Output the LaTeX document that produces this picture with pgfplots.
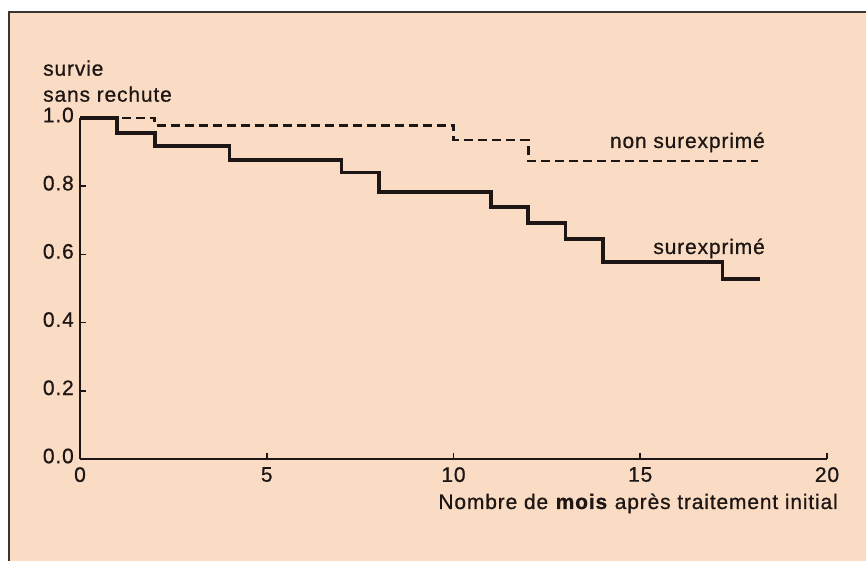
\documentclass[border=0pt]{standalone}
\usepackage{pgfplots}
\pgfplotsset{compat=1.18}
\usepackage{fontspec}
\setmainfont{Liberation Sans}[LetterSpace=4, FakeBold=0.7]
\definecolor{peach}{HTML}{F9DCC3}
\definecolor{ink}{HTML}{1E1614}
\definecolor{framec}{HTML}{3A3533}
\begin{document}
\fontsize{21pt}{25pt}\selectfont
\begin{tikzpicture}[x=1pt,y=1pt]
\useasboundingbox (0,0) rectangle (866,561);
\fill[white] (0,0) rectangle (866,561);
\fill[peach] (9,0) rectangle (866,549);
\draw[framec, line width=2pt] (9,0) -- (9,549) -- (866,549);
\begin{axis}[
  at={(80pt,102pt)}, anchor=south west,
  scale only axis, width=747pt, height=341pt,
  xmin=0, xmax=20, ymin=0, ymax=1,
  axis lines=left,
  axis line style={-, line width=2.4pt, ink},
  clip=false,
  xtick={0,5,10,15,20},
  ytick={0,0.2,0.4,0.6,0.8,1.0},
  tick align=inside,
  major tick length=6pt,
  tick style={line width=1.6pt, ink},
  /pgf/number format/assume math mode=true,
  yticklabel style={/pgf/number format/.cd, fixed, fixed zerofill, precision=1, /tikz/.cd, font=\fontsize{21pt}{24pt}\selectfont, text=ink, xshift=1pt, yshift=3pt},
  xticklabel style={font=\fontsize{21pt}{24pt}\selectfont, text=ink, yshift=-1pt},
]
\addplot[const plot, ink, line width=3.8pt, line join=miter] coordinates {
 (0,1.0) (1,0.956) (2,0.918) (4,0.877) (7,0.840) (8,0.783) (11,0.740)
 (12,0.693) (13,0.644) (14,0.578) (17.2,0.527) (18.2,0.527)};
\addplot[const plot, ink, line width=2.6pt, dash pattern=on 9pt off 5pt] coordinates {
 (0,1.0) (2,0.978) (10,0.935) (12,0.874) (18.15,0.874)};
\end{axis}
\node[anchor=base west, text=ink, inner sep=0pt] at (43,485.3) {survie};
\node[anchor=base west, text=ink, inner sep=0pt] at (43,459.3) {sans rechute};
\node[anchor=base east, text=ink, inner sep=0pt] at (765,413) {non surexprimé};
\node[anchor=base east, text=ink, inner sep=0pt] at (765,307) {surexprimé};
\node[anchor=base east, text=ink, inner sep=0pt] at (838,52) {Nombre de \textbf{mois} après traitement initial};
\end{tikzpicture}
\end{document}
